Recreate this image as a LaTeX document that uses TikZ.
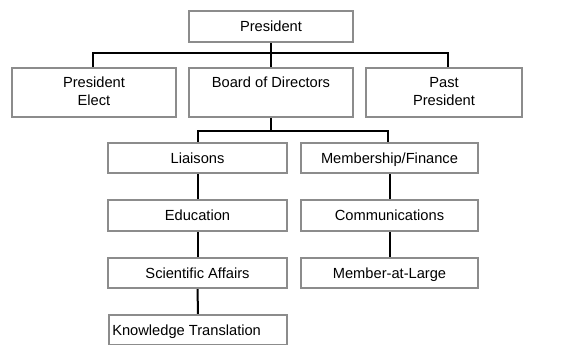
\documentclass[tikz,border=0pt]{standalone}
\usepackage{fontspec}
\setmainfont{Liberation Sans}
\newcommand\mystrut{\rule[-2pt]{0pt}{11.8pt}}
\begin{document}
\begin{tikzpicture}[x=0.75pt,y=-0.75pt,
  box/.style={draw=black!45,line width=1.8pt,fill=white,inner sep=0pt,align=center,
    font=\fontsize{11}{13.5}\selectfont,execute at begin node=\mystrut,execute at end node=\mystrut},
  link/.style={draw=black,line width=1.5pt}]
\useasboundingbox (0,0) rectangle (564,345);
\node[box,minimum width=123pt,minimum height=23.25pt] (pres) at (271,26.5) {President};
\node[box,minimum width=123pt,minimum height=36.75pt] (pe) at (94,92.5) {President\\Elect};
\node[box,minimum width=123pt,minimum height=36.75pt] (bod) at (271,92.5) {Board of Directors\\\phantom{B}};
\node[box,minimum width=117pt,minimum height=36.75pt] (pp) at (444,92.5) {Past\\President};
\node[box,minimum width=134.25pt,minimum height=22.5pt] (lia) at (197.5,158) {Liaisons};
\node[box,minimum width=134.25pt,minimum height=23.25pt] (edu) at (197.5,215.5) {Education};
\node[box,minimum width=134.25pt,minimum height=22.5pt] (sci) at (197.5,273) {Scientific Affairs};
\node[box,minimum width=133.5pt,minimum height=22.5pt] (kt) at (198,330) {};
\node[anchor=base west,inner sep=0pt,font=\fontsize{11}{13.5}\selectfont] (ktt) at (112,335.5) {Knowledge Translation};
\node[box,minimum width=132.75pt,minimum height=22.5pt] (mem) at (389.5,158) {Membership/Finance};
\node[box,minimum width=132.75pt,minimum height=23.25pt] (com) at (389.5,215.5) {Communications};
\node[box,minimum width=132.75pt,minimum height=22.5pt] (mal) at (389.5,273) {Member-at-Large};
\coordinate (j1) at (271,53);
\coordinate (j2) at (271,131);
\draw[link] (pres.south) -- (j1);
\draw[link] (j1) -| ([xshift=-1]pe.north);
\draw[link] (j1) -| ([xshift=3]pp.north);
\draw[link] (j1) -- (bod.north);
\draw[link] (bod.south) -- (j2);
\draw[link] (j2) -| (lia.north);
\draw[link] (j2) -| ([xshift=-1]mem.north);
\draw[link] (lia) -- (edu);
\draw[link] (edu) -- (sci);
\draw[link] (sci) -- (kt);
\draw[link] (mem) -- (com);
\draw[link] (com) -- (mal);
\end{tikzpicture}
\end{document}
